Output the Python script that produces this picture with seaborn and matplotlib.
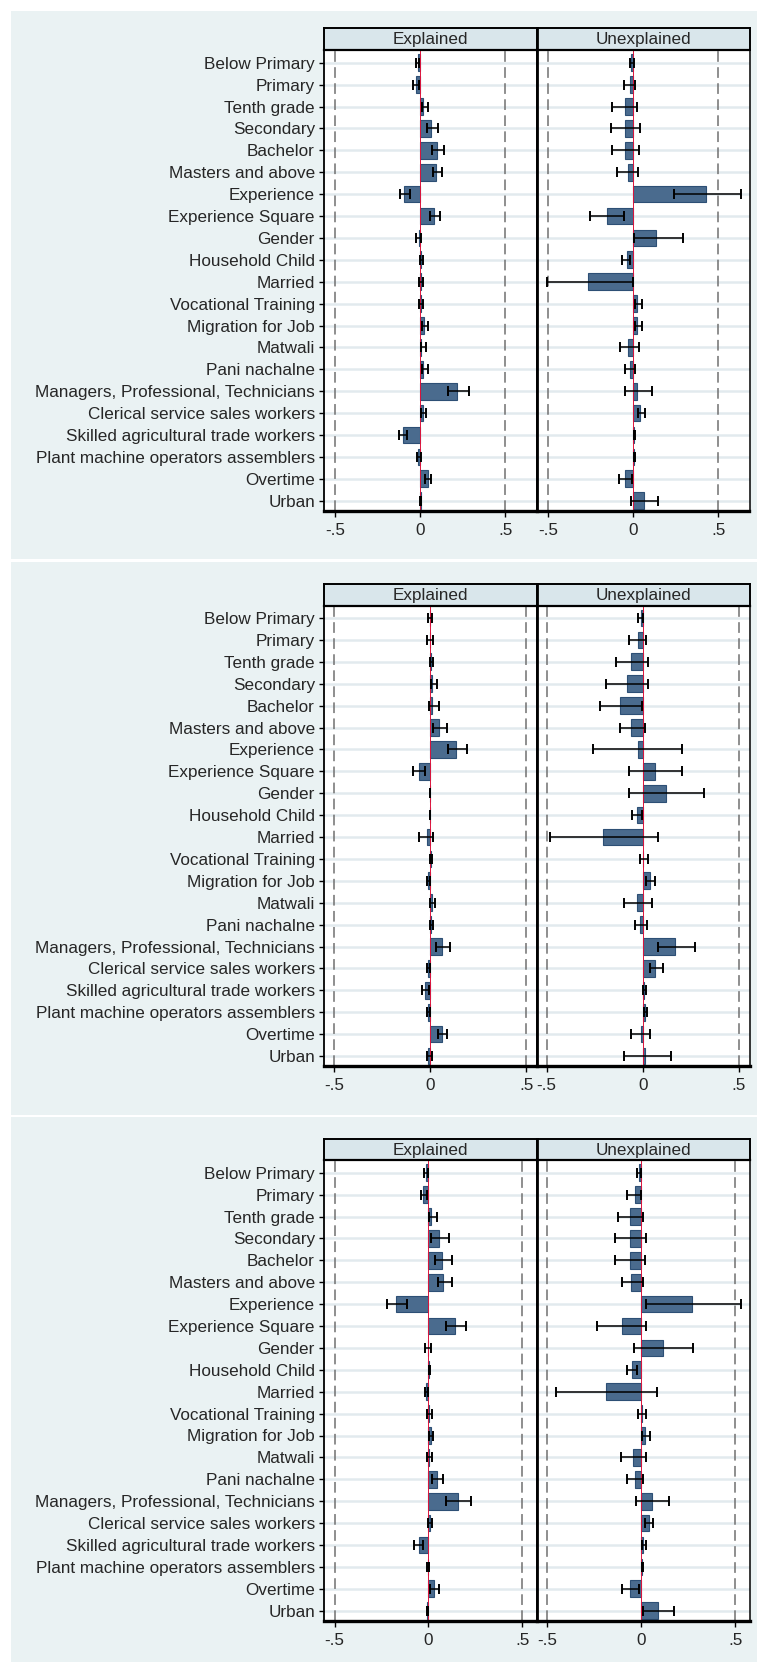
import numpy as np
import pandas as pd
import matplotlib
matplotlib.use("Agg")
import matplotlib.pyplot as plt
from matplotlib.patches import Rectangle
import seaborn as sns

# ---------------------------------------------------------------- data
variables = [
    "Below Primary", "Primary", "Tenth grade", "Secondary", "Bachelor",
    "Masters and above", "Experience", "Experience Square", "Gender",
    "Household Child", "Married", "Vocational Training", "Migration for Job",
    "Matwali", "Pani nachalne", "Managers, Professional, Technicians",
    "Clerical service sales workers", "Skilled agricultural trade workers",
    "Plant machine operators assemblers", "Overtime", "Urban",
]
facets = ["Explained", "Unexplained"]
tick_values = [-0.5, 0, 0.5]
tick_labels = ["-.5", "0", ".5"]

# Model 1
m1_exp_coef = [-0.015, -0.027, 0.016, 0.063, 0.098, 0.090, -0.094, 0.082, -0.006, 0.004, 0.003,
               0.003, 0.024, 0.006, 0.016, 0.214, 0.018, -0.104, -0.012, 0.043, 0.002]
m1_exp_lo = [-0.025, -0.043, 0.008, 0.039, 0.069, 0.076, -0.118, 0.059, -0.025, 0.000, -0.006,
             -0.006, 0.008, 0.002, 0.008, 0.165, 0.004, -0.122, -0.020, 0.029, 0.001]
m1_exp_hi = [-0.005, -0.006, 0.043, 0.102, 0.137, 0.127, -0.059, 0.118, 0.006, 0.016, 0.016,
             0.016, 0.045, 0.033, 0.043, 0.288, 0.033, -0.080, 0.004, 0.063, 0.002]
m1_une_coef = [-0.010, -0.020, -0.047, -0.047, -0.047, -0.027, 0.429, -0.151, 0.137, -0.037, -0.263,
               0.024, 0.024, -0.027, -0.020, 0.024, 0.043, 0.008, 0.008, -0.047, 0.063]
m1_une_lo = [-0.018, -0.055, -0.122, -0.131, -0.122, -0.094, 0.239, -0.251, 0.004, -0.065, -0.506,
             0.010, 0.010, -0.075, -0.045, -0.045, 0.029, 0.004, 0.006, -0.084, -0.010]
m1_une_hi = [0.004, 0.014, 0.024, 0.043, 0.033, 0.031, 0.635, -0.051, 0.294, -0.020, 0.000,
             0.053, 0.053, 0.033, 0.014, 0.112, 0.073, 0.012, 0.010, -0.006, 0.145]

# Model 2
m2_exp_coef = [0.002, 0.000, 0.005, 0.010, 0.010, 0.045, 0.135, -0.057, 0.001, 0.001, -0.017,
               0.005, -0.008, 0.010, 0.004, 0.063, -0.010, -0.026, -0.010, 0.063, -0.010]
m2_exp_lo = [-0.008, -0.017, 0.000, 0.003, -0.007, 0.017, 0.094, -0.090, 0.000, 0.000, -0.057,
             0.002, -0.016, 0.000, 0.000, 0.033, -0.016, -0.040, -0.016, 0.042, -0.016]
m2_exp_hi = [0.010, 0.017, 0.017, 0.035, 0.045, 0.087, 0.194, -0.026, 0.002, 0.002, 0.017,
             0.010, 0.000, 0.026, 0.017, 0.104, 0.000, -0.007, 0.000, 0.087, 0.010]
m2_une_coef = [-0.010, -0.024, -0.059, -0.083, -0.116, -0.059, -0.024, 0.062, 0.120, -0.031, -0.208,
               0.003, 0.038, -0.031, -0.014, 0.170, 0.062, 0.008, 0.013, -0.008, 0.010]
m2_une_lo = [-0.023, -0.073, -0.139, -0.189, -0.224, -0.116, -0.258, -0.073, -0.073, -0.055, -0.480,
             -0.016, 0.019, -0.099, -0.042, 0.078, 0.036, 0.000, 0.008, -0.059, -0.099]
m2_une_hi = [0.002, 0.019, 0.026, 0.026, -0.003, 0.010, 0.204, 0.204, 0.319, -0.003, 0.078,
             0.028, 0.062, 0.047, 0.021, 0.270, 0.104, 0.019, 0.020, 0.038, 0.147]

# Model 3
m3_exp_coef = [-0.012, -0.027, 0.012, 0.057, 0.071, 0.080, -0.172, 0.140, -0.004, 0.005, -0.012,
               0.003, 0.012, 0.002, 0.046, 0.158, 0.006, -0.050, -0.004, 0.028, -0.006]
m3_exp_lo = [-0.023, -0.041, 0.004, 0.016, 0.034, 0.052, -0.222, 0.094, -0.018, 0.002, -0.018,
             -0.009, 0.004, -0.009, 0.018, 0.094, 0.000, -0.076, -0.009, 0.009, -0.010]
m3_exp_hi = [0.000, -0.009, 0.048, 0.107, 0.124, 0.124, -0.115, 0.200, 0.012, 0.010, 0.000,
             0.018, 0.027, 0.018, 0.078, 0.226, 0.018, -0.030, 0.002, 0.055, 0.000]
m3_une_coef = [-0.012, -0.034, -0.060, -0.060, -0.060, -0.052, 0.272, -0.101, 0.117, -0.048, -0.187,
               0.004, 0.023, -0.041, -0.034, 0.057, 0.041, 0.008, 0.006, -0.060, 0.091]
m3_une_lo = [-0.021, -0.075, -0.125, -0.142, -0.142, -0.101, 0.028, -0.235, -0.039, -0.075, -0.452,
             -0.016, 0.005, -0.110, -0.075, -0.025, 0.020, 0.002, 0.004, -0.101, 0.011]
m3_une_hi = [0.000, 0.000, 0.011, 0.028, 0.020, 0.011, 0.534, 0.028, 0.278, -0.021, 0.082,
             0.028, 0.046, 0.028, 0.011, 0.149, 0.064, 0.028, 0.008, -0.012, 0.174]

models = [
    {"xlim": (-0.565, 0.684),
     "Explained": (m1_exp_coef, m1_exp_lo, m1_exp_hi),
     "Unexplained": (m1_une_coef, m1_une_lo, m1_une_hi)},
    {"xlim": (-0.551, 0.555),
     "Explained": (m2_exp_coef, m2_exp_lo, m2_exp_hi),
     "Unexplained": (m2_une_coef, m2_une_lo, m2_une_hi)},
    {"xlim": (-0.556, 0.577),
     "Explained": (m3_exp_coef, m3_exp_lo, m3_exp_hi),
     "Unexplained": (m3_une_coef, m3_une_lo, m3_une_hi)},
]

# ---------------------------------------------------------------- style
sns.set_style("white")
plt.rcParams["font.family"] = ["Liberation Sans", "DejaVu Sans"]
FS = 12.3

BG = "#eaf2f3"
STRIP = "#d9e6eb"
BAR = "#4a6b8e"
BAR_EDGE = "#2d4f75"
GRID = "#e2eaee"
ZERO = "#dc143c"

W, H = 757, 1662
fig = plt.figure(figsize=(W / 100, H / 100), dpi=100, facecolor="white")


def fig_rect(x0, y0, x1, y1):
    """pixel box (top-left origin) -> figure fraction rect"""
    return [x0 / W, 1 - y1 / H, (x1 - x0) / W, (y1 - y0) / H]


# panel blocks: (bg top, bg bottom, strip top, plot top, plot bottom)
blocks = [
    (11, 559, 28.3, 50.2, 511.0),
    (562, 1115, 583.5, 605.5, 1066.3),
    (1117, 1662, 1138.5, 1160.2, 1621.0),
]
col_x = [(324.0, 536.8), (536.8, 749.5)]

n = len(variables)
pos = np.arange(n)
row = 21.9
top_pad = 12.5 / row
bot_pad = 10.3 / row

for blk, model in zip(blocks, models):
    bg_top, bg_bot, s_top, p_top, p_bot = blk
    r = fig_rect(11, bg_top, W, bg_bot)
    fig.patches.append(Rectangle((r[0], r[1]), r[2], r[3], transform=fig.transFigure,
                                 facecolor=BG, edgecolor="none", zorder=-5))

    for j, (facet, (x0, x1)) in enumerate(zip(facets, col_x)):
        coef, lo, hi = (np.asarray(a, dtype=float) for a in model[facet])
        df = pd.DataFrame({"variable": variables, "coef": coef})

        # facet strip
        sax = fig.add_axes(fig_rect(x0, s_top, x1, p_top))
        sax.set_facecolor(STRIP)
        sax.set_xticks([])
        sax.set_yticks([])
        for sp in sax.spines.values():
            sp.set_color("black")
            sp.set_linewidth(1.4)
        sax.spines["right" if j == 0 else "left"].set_linewidth(2.0)
        sax.text(0.5, 0.47, facet, ha="center", va="center", fontsize=FS,
                 transform=sax.transAxes)

        ax = fig.add_axes(fig_rect(x0, p_top, x1, p_bot))
        ax.set_facecolor("white")
        for yy in pos:
            ax.axhline(yy, color=GRID, lw=1.8, zorder=0.5)
        for xv in (-0.5, 0.5):
            ax.axvline(xv, color="#707070", lw=1.1, ls=(0, (7, 3.5)), zorder=0.8)

        sns.barplot(data=df, x="coef", y="variable", orient="h", ax=ax,
                    color=BAR, saturation=1, errorbar=None, width=0.76,
                    edgecolor=BAR_EDGE, linewidth=0.8, zorder=2)

        ax.axvline(0, color=ZERO, lw=0.7, zorder=2.5)

        ax.errorbar(x=(lo + hi) / 2, y=pos, xerr=(hi - lo) / 2, fmt="none",
                    ecolor="black", elinewidth=1.1, capsize=3.8, capthick=1.4,
                    zorder=3)

        ax.set_xlim(*model["xlim"])
        ax.set_ylim(n - 1 + bot_pad, -top_pad)
        ax.set_xlabel("")
        ax.set_ylabel("")
        ax.set_xticks(tick_values)
        ax.set_xticklabels(tick_labels, fontsize=FS)
        ax.tick_params(axis="x", length=4.5, width=1.0, color="black", pad=4,
                       direction="out", bottom=True)

        if j == 0:
            ax.set_yticks(pos)
            ax.set_yticklabels(variables, fontsize=FS)
            ax.tick_params(axis="y", length=3.5, width=1.0, color="black", pad=3,
                           direction="out", left=True)
        else:
            ax.set_yticks([])

        for name, sp in ax.spines.items():
            sp.set_visible(True)
            sp.set_color("black")
        ax.spines["bottom"].set_linewidth(2.4)
        ax.spines["top"].set_linewidth(1.6)
        ax.spines["left"].set_linewidth(1.3 if j == 0 else 2.0)
        ax.spines["right"].set_linewidth(2.0 if j == 0 else 1.1)

fig.savefig("out.png", dpi=100, facecolor="white")
